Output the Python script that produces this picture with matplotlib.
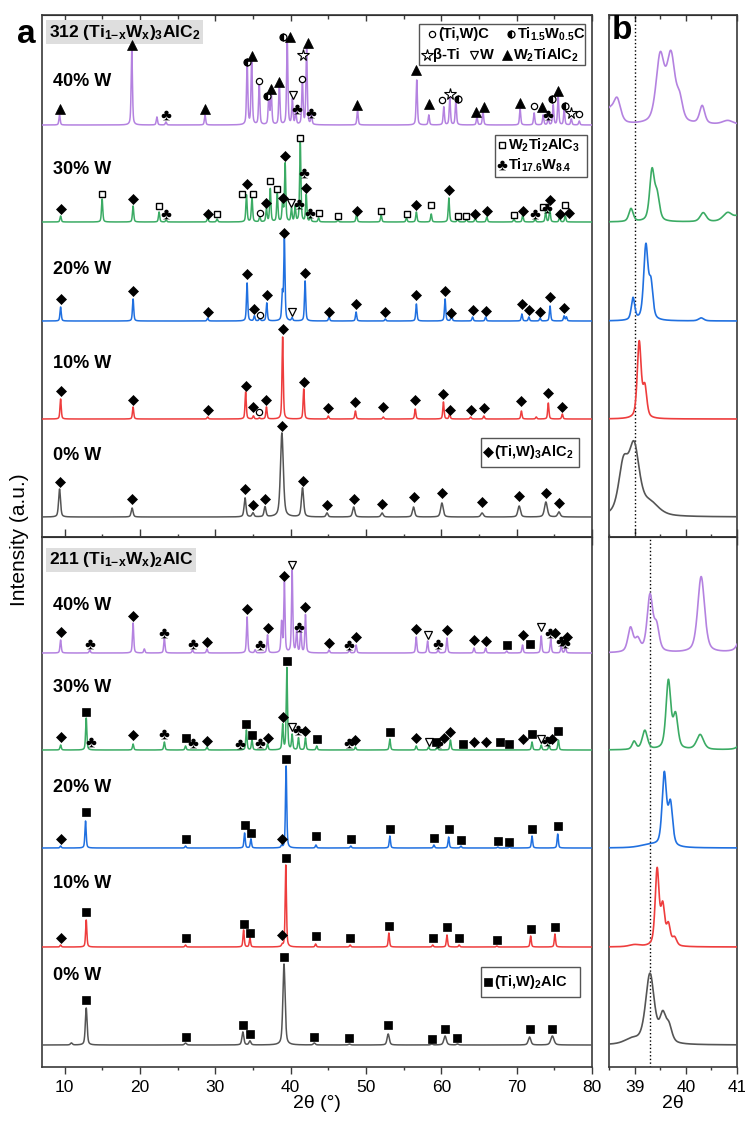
import numpy as np
import matplotlib.pyplot as plt
from matplotlib.patches import Rectangle
from matplotlib.ticker import MultipleLocator

plt.rcParams['font.family'] = ['Liberation Sans', 'DejaVu Sans']
plt.rcParams['mathtext.fontset'] = 'custom'
plt.rcParams['mathtext.rm'] = 'Liberation Sans:bold'
plt.rcParams['mathtext.it'] = 'Liberation Sans:bold'
plt.rcParams['mathtext.bf'] = 'Liberation Sans:bold'

# ---------------- data ----------------
# peaks: (2theta, height) or (2theta, height, fwhm)
# markers: (2theta, height above baseline, phase code)
labels = ['0% W', '10% W', '20% W', '30% W', '40% W']
colors = ['#555555', '#ee3d3d', '#2070e0', '#3bab64', '#b482e0']

# --- 312 (Ti1-xWx)3AlC2 ---
p312_0 = [(9.33, 28, 0.3), (18.96, 9, 0.3), (33.95, 19, 0.3), (35.0, 4, 0.3), (36.6, 10, 0.3),
          (38.84, 84, 0.45), (41.58, 29, 0.35), (44.83, 4, 0.3), (48.37, 10, 0.35), (52.14, 4, 0.35),
          (56.31, 10, 0.35), (60.08, 14, 0.4), (65.41, 4, 0.4), (70.33, 11, 0.4), (73.88, 15, 0.45),
          (75.61, 5, 0.4)]
p312_10 = [(9.47, 20), (19.09, 12), (28.99, 2), (34.03, 27), (35.06, 3), (35.85, 1), (36.79, 12),
           (38.94, 82), (41.74, 30), (45.0, 3), (48.6, 8), (52.3, 2), (56.54, 10), (60.28, 17),
           (61.1, 5), (63.9, 2), (65.65, 3), (70.63, 8), (72.6, 2), (74.2, 16), (76.06, 5)]
p312_20 = [(9.47, 14), (19.09, 22), (28.99, 3), (34.22, 38), (35.19, 5), (35.9, 3), (36.83, 18),
           (38.9, 27), (39.17, 81), (40.19, 3), (41.92, 40), (45.1, 4), (48.69, 9), (52.57, 2),
           (56.69, 17), (60.5, 22), (61.35, 6), (64.15, 4), (65.88, 4), (70.69, 7), (71.62, 4),
           (73.11, 3), (74.43, 15), (76.29, 5), (76.6, 4)]
p312_30 = [(9.47, 6), (14.98, 23), (19.09, 16), (22.54, 10), (23.48, 2), (28.99, 4), (30.24, 3),
           (34.14, 27), (34.87, 25), (35.9, 5), (36.79, 13), (37.3, 33), (38.23, 28), (38.94, 20),
           (39.27, 58), (40.11, 13), (40.6, 15), (41.28, 80), (42.07, 27), (42.63, 5), (43.71, 4),
           (46.28, 2), (48.75, 8), (52.02, 7), (55.38, 4), (56.69, 10), (58.66, 8), (61.0, 24),
           (62.17, 3), (63.34, 3), (64.5, 4), (66.04, 5), (69.64, 3), (70.81, 7), (72.45, 3),
           (73.85, 10), (74.4, 13), (75.7, 5), (76.45, 6)]
p312_40 = [(9.33, 10), (18.92, 75), (22.25, 8), (23.45, 3), (28.64, 10), (34.23, 63), (34.83, 68),
           (35.83, 42), (37.1, 28), (37.42, 35), (38.5, 42), (39.55, 85), (40.23, 25), (40.68, 12),
           (41.56, 45), (42.12, 78), (42.76, 10), (48.88, 15), (56.74, 45), (58.34, 10), (60.33, 18),
           (61.13, 27), (61.93, 25), (64.73, 8), (65.53, 14), (70.46, 16), (72.32, 12), (73.52, 10),
           (74.19, 6), (74.85, 20), (75.51, 28), (76.31, 15), (77.25, 6), (78.31, 4)]

m312_0 = [(9.33, 35, 'D'), (18.96, 18, 'D'), (33.95, 28, 'D'), (35.0, 12, 'D'), (36.6, 18, 'D'),
          (38.84, 91, 'D'), (41.58, 36, 'D'), (44.83, 12, 'D'), (48.37, 18, 'D'), (52.14, 13, 'D'),
          (56.31, 20, 'D'), (60.08, 24, 'D'), (65.41, 15, 'D'), (70.33, 21, 'D'), (73.88, 24, 'D'),
          (75.61, 14, 'D')]
m312_10 = [(9.47, 28, 'D'), (19.09, 19, 'D'), (28.99, 9, 'D'), (34.03, 33, 'D'), (35.06, 12, 'D'),
           (35.85, 7, 'o'), (36.79, 19, 'D'), (38.94, 90, 'D'), (41.74, 37, 'D'), (45.0, 11, 'D'),
           (48.6, 17, 'D'), (52.3, 12, 'D'), (56.54, 19, 'D'), (60.28, 25, 'D'), (61.1, 9, 'D'),
           (63.9, 9, 'D'), (65.65, 11, 'D'), (70.63, 18, 'D'), (74.2, 26, 'D'), (76.06, 12, 'D')]
m312_20 = [(9.47, 22, 'D'), (19.09, 30, 'D'), (28.99, 9, 'D'), (34.22, 47, 'D'), (35.19, 12, 'D'),
           (35.9, 6, 'o'), (36.83, 26, 'D'), (39.17, 88, 'D'), (40.19, 9, 'v'), (41.92, 48, 'D'),
           (45.1, 9, 'D'), (48.69, 17, 'D'), (52.57, 9, 'D'), (56.69, 26, 'D'), (60.5, 30, 'D'),
           (61.35, 8, 'D'), (64.15, 11, 'D'), (65.88, 10, 'D'), (70.69, 17, 'D'), (71.62, 11, 'D'),
           (73.11, 9, 'D'), (74.43, 24, 'D'), (76.29, 13, 'D')]
m312_30 = [(9.47, 13, 'D'), (14.98, 28, 's'), (19.09, 23, 'D'), (22.54, 16, 's'), (23.48, 8, 'c'),
           (28.99, 8, 'D'), (30.24, 8, 's'), (33.56, 28, 's'), (34.22, 38, 'D'), (35.06, 28, 's'),
           (35.9, 9, 'o'), (36.79, 19, 'D'), (37.3, 41, 's'), (38.23, 33, 's'), (38.94, 24, 'D'),
           (39.27, 66, 'D'), (40.11, 19, 'v'), (41.05, 18, 'c'), (41.28, 84, 's'), (41.84, 49, 'c'),
           (42.07, 34, 'D'), (42.63, 9, 'c'), (43.71, 9, 's'), (46.28, 6, 's'), (48.75, 11, 'D'),
           (52.02, 11, 's'), (55.38, 8, 's'), (56.69, 17, 'D'), (58.66, 17, 's'), (61.0, 32, 'D'),
           (62.17, 6, 's'), (63.34, 6, 's'), (64.5, 8, 'D'), (66.04, 11, 'D'), (69.64, 7, 's'),
           (70.81, 11, 'D'), (72.45, 8, 'c'), (73.47, 15, 's'), (74.07, 14, 'c'), (74.4, 22, 'D'),
           (75.7, 8, 'D'), (76.39, 17, 's'), (77.0, 9, 'D')]
m312_40 = [(9.33, 16, '^'), (18.96, 80, '^'), (23.4, 10, 'c'), (28.6, 16, '^'), (34.26, 63, 'h'),
           (34.93, 69, '^'), (35.82, 44, 'o'), (36.84, 29, 'h'), (37.37, 36, '^'), (38.48, 43, '^'),
           (39.01, 88, 'h'), (39.9, 88, '^'), (40.25, 30, 'v'), (40.84, 16, 'c'), (41.5, 46, 'o'),
           (41.67, 70, '*'), (42.34, 82, '^'), (42.7, 12, 'c'), (48.82, 20, '^'), (56.67, 55, '^'),
           (58.35, 21, '^'), (60.13, 25, 'o'), (61.2, 31, '*'), (62.17, 26, 'h'), (64.66, 13, '^'),
           (65.63, 18, '^'), (70.42, 22, '^'), (72.28, 19, 'o'), (73.39, 18, '^'), (74.19, 10, 'c'),
           (74.72, 26, 'h'), (75.52, 34, '^'), (76.41, 19, 'h'), (77.17, 12, '*'), (78.27, 11, 'o')]

# --- 211 (Ti1-xWx)2AlC ---
p211_0 = [(10.9, 2, 0.3), (12.87, 37, 0.28), (26.05, 2, 0.3), (33.66, 13, 0.3), (34.6, 4, 0.3),
          (39.12, 81, 0.35), (43.14, 2, 0.3), (47.8, 1, 0.3), (52.95, 11, 0.35), (58.73, 1, 0.3),
          (60.5, 9, 0.4), (62.14, 1, 0.3), (71.71, 8, 0.4), (74.74, 9, 0.5)]
p211_10 = [(9.47, 2), (12.87, 27), (26.05, 2), (33.76, 17), (34.6, 9), (38.88, 2), (39.36, 82),
           (43.32, 3), (47.9, 2), (53.04, 14), (58.86, 2), (60.75, 12), (62.37, 2), (67.37, 1),
           (71.86, 11), (75.08, 13)]
p211_20 = [(9.47, 2), (12.78, 27), (26.05, 2), (33.89, 15), (34.73, 9), (38.8, 2), (39.4, 82),
           (43.36, 3), (47.99, 2), (53.17, 12), (59.02, 3), (60.97, 11), (62.6, 2), (67.5, 1),
           (69.05, 1), (72.04, 12), (75.45, 14)]
p211_30 = [(9.47, 5), (12.87, 32), (19.09, 6), (23.24, 8), (26.05, 4), (28.9, 3), (34.13, 20),
           (34.87, 10), (36.93, 6), (38.94, 25), (39.5, 82), (40.2, 15), (41.04, 12), (41.97, 12),
           (43.46, 4), (48.6, 3), (53.17, 11), (56.67, 4), (58.31, 3), (59.45, 3), (61.21, 10),
           (72.04, 8), (73.26, 5), (74.3, 5), (75.54, 10)]
p211_40 = [(9.47, 13), (13.34, 3), (19.09, 30), (20.58, 4), (23.24, 15), (26.98, 3), (28.9, 4),
           (34.22, 36), (35.29, 3), (36.93, 18), (38.8, 30), (39.17, 70), (40.2, 82), (40.8, 22),
           (41.35, 24), (41.97, 38), (45.1, 3), (47.8, 3), (48.69, 8), (56.67, 16), (58.18, 12),
           (59.57, 3), (60.75, 15), (64.34, 5), (65.88, 5), (68.68, 2), (70.78, 8), (73.26, 17),
           (74.52, 14), (75.92, 7), (76.47, 6)]

m211_0 = [(12.87, 45, 'S'), (26.05, 8, 'S'), (33.66, 20, 'S'), (34.6, 11, 'S'), (39.12, 88, 'S'),
          (43.14, 8, 'S'), (47.8, 7, 'S'), (52.95, 20, 'S'), (58.73, 6, 'S'), (60.5, 16, 'S'),
          (62.14, 7, 'S'), (71.71, 16, 'S'), (74.74, 16, 'S')]
m211_10 = [(9.47, 9, 'D'), (12.87, 35, 'S'), (26.05, 9, 'S'), (33.76, 23, 'S'), (34.6, 14, 'S'),
           (38.88, 12, 'D'), (39.36, 89, 'S'), (43.32, 11, 'S'), (47.9, 9, 'S'), (53.04, 21, 'S'),
           (58.86, 9, 'S'), (60.75, 20, 'S'), (62.37, 9, 'S'), (67.37, 7, 'S'), (71.86, 18, 'S'),
           (75.08, 20, 'S')]
m211_20 = [(9.47, 9, 'D'), (12.78, 36, 'S'), (26.05, 9, 'S'), (33.89, 23, 'S'), (34.73, 15, 'S'),
           (38.8, 9, 'D'), (39.4, 89, 'S'), (43.36, 12, 'S'), (47.99, 9, 'S'), (53.17, 19, 'S'),
           (59.02, 10, 'S'), (60.97, 19, 'S'), (62.6, 8, 'S'), (67.5, 7, 'S'), (69.05, 6, 'S'),
           (72.04, 19, 'S'), (75.45, 22, 'S')]
m211_30 = [(9.47, 13, 'D'), (12.87, 38, 'S'), (13.49, 8, 'c'), (19.09, 15, 'D'), (23.24, 16, 'c'),
           (26.05, 12, 'S'), (26.98, 7, 'c'), (28.9, 9, 'D'), (33.29, 6, 'c'), (34.13, 26, 'S'),
           (34.87, 15, 'S'), (35.9, 7, 'c'), (36.93, 12, 'D'), (38.94, 33, 'D'), (39.5, 89, 'S'),
           (40.2, 23, 'v'), (41.04, 20, 'c'), (41.97, 19, 'D'), (43.46, 11, 'S'), (47.75, 7, 'c'),
           (48.6, 10, 'D'), (53.17, 18, 'S'), (56.67, 12, 'D'), (58.31, 8, 'v'), (59.33, 8, 'S'),
           (59.57, 7, 'c'), (60.41, 12, 'D'), (61.21, 18, 'D'), (62.83, 6, 'S'), (64.34, 8, 'D'),
           (65.88, 8, 'D'), (67.75, 8, 'S'), (69.05, 6, 'S'), (70.87, 11, 'D'), (72.04, 16, 'S'),
           (73.26, 11, 'v'), (74.05, 9, 'c'), (74.74, 11, 'D'), (75.54, 19, 'S')]
m211_40 = [(9.47, 21, 'D'), (13.34, 9, 'c'), (19.09, 37, 'D'), (23.24, 20, 'c'), (26.98, 9, 'c'),
           (28.9, 11, 'D'), (34.22, 44, 'D'), (35.9, 8, 'c'), (36.93, 25, 'D'), (39.17, 77, 'D'),
           (40.2, 88, 'v'), (41.12, 26, 'c'), (41.97, 46, 'D'), (45.1, 10, 'D'), (47.8, 8, 'c'),
           (48.69, 16, 'D'), (56.67, 24, 'D'), (58.18, 18, 'v'), (59.57, 9, 'c'), (60.75, 23, 'D'),
           (64.34, 13, 'D'), (65.88, 12, 'D'), (68.68, 8, 'S'), (70.78, 18, 'D'), (71.71, 9, 'S'),
           (73.26, 26, 'v'), (74.38, 20, 'c'), (75.08, 20, 'D'), (75.82, 12, 'c'), (76.47, 10, 'c'),
           (76.71, 16, 'D')]

# --- panel b, zoom 38.5-41 deg: (2theta, height, fwhm) ---
b312_0 = [(38.78, 48, 0.22), (38.99, 66, 0.24), (39.3, 12, 0.4)]
b312_10 = [(39.09, 76, 0.09), (39.2, 30, 0.09)]
b312_20 = [(38.97, 22, 0.08), (39.22, 74, 0.1), (39.32, 34, 0.09), (40.3, 3, 0.12)]
b312_30 = [(38.93, 13, 0.1), (39.34, 50, 0.11), (39.44, 24, 0.11), (40.34, 9, 0.14),
           (40.82, 9, 0.22), (41.05, 6, 0.2)]
b312_40 = [(38.5, 14, 0.25), (38.66, 22, 0.16), (39.5, 66, 0.19), (39.71, 66, 0.19),
           (39.88, 20, 0.14), (40.32, 18, 0.12), (40.82, 4, 0.25)]
b211_0 = [(38.95, 5, 0.35), (39.3, 70, 0.2), (39.55, 26, 0.14), (39.67, 16, 0.14)]
b211_10 = [(39.0, 2, 0.25), (39.44, 76, 0.09), (39.55, 38, 0.09), (39.66, 20, 0.09), (39.78, 8, 0.1)]
b211_20 = [(39.3, 3, 0.45), (39.58, 72, 0.1), (39.7, 42, 0.1)]
b211_30 = [(38.99, 8, 0.09), (39.2, 19, 0.12), (39.66, 68, 0.11), (39.8, 33, 0.11),
           (40.28, 15, 0.16), (41.15, 15, 0.18)]
b211_40 = [(38.92, 24, 0.12), (39.06, 12, 0.12), (39.3, 56, 0.13), (39.43, 24, 0.12),
           (40.3, 76, 0.16), (41.15, 40, 0.18)]

# layout values (vertical stacking, px-like units)
off_top = [20, 118, 216, 315, 412]
off_bot = [22, 120, 219, 317, 414]
lab_top = [62, 56, 51, 52, 43]
lab_bot = [70, 64, 60, 62, 47]

STYLE = {
    'D': dict(marker='D', ms=5.5, mfc='k', mec='k', mew=0.5),
    'o': dict(marker='o', ms=4.5, mfc='white', mec='k', mew=0.9),
    'h': dict(marker='o', ms=5, fillstyle='left', mfc='k', markerfacecoloralt='white', mec='k', mew=0.9),
    '*': dict(marker='*', ms=8.5, mfc='white', mec='k', mew=0.8),
    'v': dict(marker='v', ms=5.5, mfc='white', mec='k', mew=0.9),
    '^': dict(marker='^', ms=6.5, mfc='k', mec='k', mew=0.5),
    's': dict(marker='s', ms=5, mfc='white', mec='k', mew=1.0),
    'c': dict(marker=r'$\clubsuit$', ms=7, mfc='k', mec='k', mew=0),
    'S': dict(marker='s', ms=5.5, mfc='k', mec='k', mew=0.5),
}


def profile(x, peaks, fwhm):
    y = np.zeros_like(x)
    for p in peaks:
        c, h = p[0], p[1]
        w = p[2] if len(p) > 2 else fwhm
        r = (x - c) / w
        y += h * (0.5 * np.exp(-4 * np.log(2) * r ** 2) + 0.5 / (1 + 4 * r ** 2))
    return y


W, H = 745, 1122
fig = plt.figure(figsize=(W / 100, H / 100), dpi=100)


def px_axes(l, t, r, b):
    return fig.add_axes([l / W, 1 - b / H, (r - l) / W, (b - t) / H])


axA1 = px_axes(42, 15, 592, 537)
axA2 = px_axes(42, 537, 592, 1067)
axB1 = px_axes(609, 15, 737, 537)
axB2 = px_axes(609, 537, 737, 1067)

x_a = np.linspace(7, 80, 7301)
x_b = np.linspace(38.5, 41, 1001)

spine_c = '#3a3a3a'
secs = {}
for ax, top in [(axA1, True), (axA2, False), (axB1, True), (axB2, False)]:
    ax.set_ylim(0, 522 if top else 530)
    ax.set_yticks([])
    for s in ax.spines.values():
        s.set_color(spine_c)
        s.set_linewidth(1.2)
    sec = ax.secondary_xaxis('top')
    sec.tick_params(which='major', direction='in', length=4.5, width=1.0, color=spine_c, labeltop=False)
    sec.tick_params(which='minor', direction='in', length=3, width=1.0, color=spine_c)
    if top:
        # ticks on the divider cross the line
        ax.tick_params(axis='x', which='major', direction='inout', length=11, width=1.0, color=spine_c,
                       labelbottom=False)
        ax.tick_params(axis='x', which='minor', direction='inout', length=5, width=1.0, color=spine_c)
    else:
        ax.tick_params(axis='x', which='major', direction='out', length=5, width=1.0, color=spine_c,
                       labelsize=12.5, pad=4)
        ax.tick_params(axis='x', which='minor', direction='out', length=2.5, width=1.0, color=spine_c)
        sec.tick_params(which='both', length=0)
    secs[ax] = sec

for ax in (axA1, axA2):
    ax.set_xlim(7, 80)
    for a in (ax, secs[ax]):
        a.xaxis.set_major_locator(MultipleLocator(10))
        a.xaxis.set_minor_locator(MultipleLocator(5))
for ax in (axB1, axB2):
    ax.set_xlim(38.5, 41)
    for a in (ax, secs[ax]):
        a.xaxis.set_major_locator(MultipleLocator(1))
        a.xaxis.set_minor_locator(MultipleLocator(0.5))

top_p = [p312_0, p312_10, p312_20, p312_30, p312_40]
top_m = [m312_0, m312_10, m312_20, m312_30, m312_40]
bot_p = [p211_0, p211_10, p211_20, p211_30, p211_40]
bot_m = [m211_0, m211_10, m211_20, m211_30, m211_40]
top_b = [b312_0, b312_10, b312_20, b312_30, b312_40]
bot_b = [b211_0, b211_10, b211_20, b211_30, b211_40]

for ax, axb, plist, mlist, blist, offs, labs in [
        (axA1, axB1, top_p, top_m, top_b, off_top, lab_top),
        (axA2, axB2, bot_p, bot_m, bot_b, off_bot, lab_bot)]:
    for i in range(5):
        ax.plot(x_a, offs[i] + profile(x_a, plist[i], 0.2), color=colors[i], lw=1.1, zorder=3)
        for (tx, hy, code) in mlist[i]:
            ax.plot(tx, offs[i] + hy, linestyle='none', zorder=5, clip_on=False, **STYLE[code])
        ax.text(8.5, offs[i] + labs[i], labels[i], fontsize=13, fontweight='bold',
                ha='left', va='center')
        axb.plot(x_b, offs[i] + profile(x_b, blist[i], 0.1), color=colors[i], lw=1.2, zorder=3)

axB1.axvline(39.0, color='k', ls=':', lw=1.0, zorder=2)
axB2.axvline(39.3, color='k', ls=':', lw=1.0, zorder=2)

# panel titles
box = dict(boxstyle='square,pad=0.15', fc='#dedede', ec='none')
axA1.text(0.012, 0.967, r'312 (Ti$_{1\mathrm{-}x}$W$_x$)$_3$AlC$_2$', transform=axA1.transAxes,
          fontsize=12.5, fontweight='bold', ha='left', va='center', bbox=box)
axA2.text(0.012, 0.957, r'211 (Ti$_{1\mathrm{-}x}$W$_x$)$_2$AlC', transform=axA2.transAxes,
          fontsize=12.5, fontweight='bold', ha='left', va='center', bbox=box)

# overlay in pixel coordinates for legends and labels
ov = fig.add_axes([0, 0, 1, 1], zorder=10)
ov.set_xlim(0, W)
ov.set_ylim(H, 0)
ov.axis('off')
ov.patch.set_alpha(0)


def leg_item(x, y, code, text):
    ov.plot(x, y, linestyle='none', **STYLE[code])
    ov.text(x + 6, y, text, fontsize=10.5, fontweight='bold', ha='left', va='center')


ov.add_patch(Rectangle((419, 24), 166, 41, fill=False, ec='#555555', lw=1))
leg_item(432, 34, 'o', '(Ti,W)C')
leg_item(511, 34, 'h', r'Ti$_{1.5}$W$_{0.5}$C')
leg_item(427, 55, '*', 'β-Ti')
leg_item(474, 55, 'v', 'W')
leg_item(507, 55, '^', r'W$_2$TiAlC$_2$')

ov.add_patch(Rectangle((495, 135), 92, 42, fill=False, ec='#555555', lw=1))
leg_item(502, 145, 's', r'W$_2$Ti$_2$AlC$_3$')
leg_item(502, 165, 'c', r'Ti$_{17.6}$W$_{8.4}$')

ov.add_patch(Rectangle((481, 438), 98, 29, fill=False, ec='#555555', lw=1))
leg_item(488, 452, 'D', r'(Ti,W)$_3$AlC$_2$')

ov.add_patch(Rectangle((481, 967), 99, 30, fill=False, ec='#555555', lw=1))
leg_item(488, 982, 'S', r'(Ti,W)$_2$AlC')

ov.text(26, 34, 'a', fontsize=24, fontweight='bold', ha='center', va='center')
ov.text(622, 30, 'b', fontsize=24, fontweight='bold', ha='center', va='center')
ov.text(20, 540, 'Intensity (a.u.)', fontsize=15, rotation=90, ha='center', va='center')
ov.text(317, 1103, '2θ (°)', fontsize=14, ha='center', va='center')
ov.text(673, 1103, '2θ', fontsize=14, ha='center', va='center')

fig.savefig('out.png', dpi=100)
